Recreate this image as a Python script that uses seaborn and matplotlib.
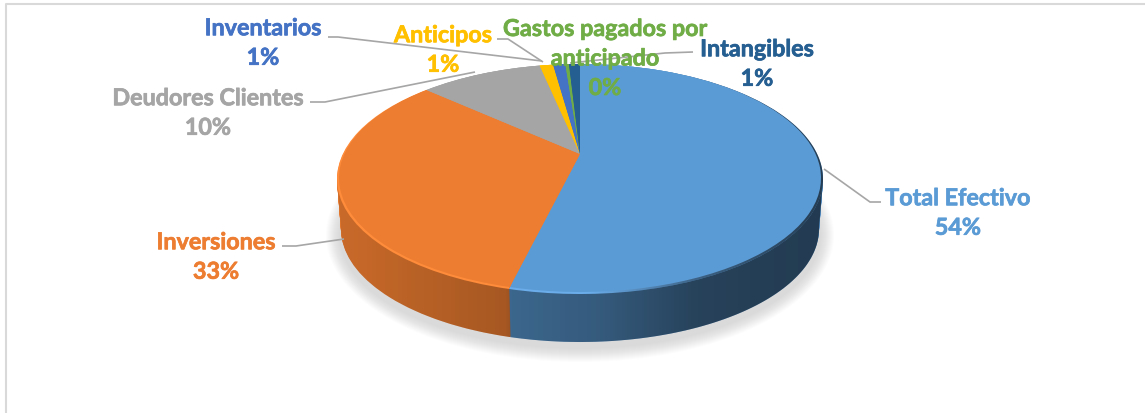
import numpy as np
import seaborn as sns
import matplotlib
matplotlib.use('Agg')
import matplotlib.pyplot as plt
import matplotlib.patheffects as pe
from matplotlib.patches import Ellipse
from matplotlib.path import Path
from matplotlib.transforms import Transform

# datos (sentido horario desde las 12)
categorias = ['Total Efectivo', 'Inversiones', 'Deudores Clientes', 'Anticipos',
              'Inventarios', 'Gastos pagados por\nanticipado', 'Intangibles']
valores = [53.8, 32.9, 10.0, 1.1, 1.0, 0.3, 0.9]
colores = ['#5B9BD5', '#ED7D31', '#A5A5A5', '#FFC000', '#4472C4', '#70AD47', '#255E91']
colores_bisel = ['#6BADEA', '#FF8C3A', '#B0B0B0', '#FFC000', '#4472C4', '#70AD47', '#255E91']

sns.set_theme(style='white')
plt.rcParams['font.family'] = ['Lato', 'DejaVu Sans']
paleta = sns.color_palette(colores)
paleta_bisel = sns.color_palette(colores_bisel)


class Disco3D(Transform):
    # lleva el disco unidad a una elipse con perspectiva (el centro queda desplazado)
    input_dims = 2
    output_dims = 2

    def __init__(self, a, b, cx, cy, k):
        super().__init__()
        self.a, self.b, self.cx, self.cy, self.k = a, b, cx, cy, k

    def transform_non_affine(self, v):
        v = np.asarray(v, dtype=float)
        d = 1 + self.k * v[:, 1]
        x = self.cx + self.a * v[:, 0] * np.sqrt(1 - self.k ** 2) / d
        y = self.cy - self.b * (v[:, 1] + self.k) / d
        return np.column_stack([x, y])


def tarta(a, b, cy, k, cols, z):
    wedges, _ = ax.pie(valores, colors=cols, startangle=90, counterclock=False,
                       wedgeprops={'linewidth': 0})
    t = Disco3D(a, b, 580, cy, k) + ax.transData
    for w in wedges:
        w.set_transform(t)
        w.set_zorder(z)
        w.set_clip_on(False)


def sombreado(xs, alphas, clip, z):
    # degradado negro horizontal recortado a la forma
    col = np.arange(330, 830)
    rgba = np.zeros((1, len(col), 4))
    rgba[0, :, 3] = np.interp(col, xs, alphas)
    im = ax.imshow(rgba, extent=(330, 830, 350, 60), aspect='auto', zorder=z, interpolation='bilinear')
    im.set_clip_path(clip, ax.transData)


fig = plt.figure(figsize=(11.45, 4.14), dpi=100)
ax = fig.add_axes([0, 0, 1, 1])

# sombra difusa
for e in range(0, 14):
    ax.add_patch(Ellipse((580, 236), 2 * (241 + e), 2 * (114 + e), color='#808080',
                         alpha=0.018, lw=0, zorder=1))

# pared lateral
for d in np.arange(50, 0, -1.0):
    f = d / 50
    tarta(243 - 4 * f, 115 - 2 * f, 180 + d, 0.217, paleta, 2)

# degradado de la pared
t = np.linspace(np.pi, 2 * np.pi, 120)
borde = np.column_stack([580 + 239 * np.cos(t), 230 - 113 * np.sin(t)])
pared = np.vstack([[337, 180], borde, [823, 180], [337, 180]])
sombreado([337, 505, 510, 600, 700, 823], [0.15, 0.30, 0.34, 0.42, 0.58, 0.62], Path(pared), 3)

# bisel y cara superior
tarta(243, 115, 180, 0.217, paleta_bisel, 4)
t2 = np.linspace(0, 2 * np.pi, 240)
elipse = np.column_stack([580 + 243 * np.cos(t2), 180 - 115 * np.sin(t2)])
sombreado([330, 590, 700, 823], [0, 0, 0.45, 0.65], Path(elipse), 5)
tarta(241, 114, 179, 0.21, paleta, 6)
tarta(240, 113, 178.5, 0.205, paleta, 6)
tarta(239, 112.5, 177.5, 0.2, paleta, 6)

# lineas guia
lineas = [([328, 338, 542], [38, 38, 62]),
          ([497, 508, 543], [40, 40, 63]),
          ([310, 325, 475], [103, 103, 73]),
          ([282, 296, 344], [247, 247, 240]),
          ([824, 870, 881], [170, 203, 203]),
          ([693, 665, 570], [53, 54, 64])]
for xs, ys in lineas:
    ax.plot(xs, ys, color='#A6A6A6', lw=1.2, zorder=7, solid_capstyle='butt')

# etiquetas
pos = [(958, 214.5), (216, 258.5), (208, 114.5), (443, 51.5), (263, 44.5), (605, 60), (757, 65.5)]
for nombre, v, c, (x, y) in zip(categorias, valores, colores, pos):
    ax.text(x, y, f'{nombre}\n{v:.0f}%', color=c, ha='center', va='center',
            fontsize=16.8, fontweight='bold', linespacing=1.5, zorder=8,
            path_effects=[pe.withStroke(linewidth=0.5, foreground=c)])

# marco
ax.plot([6, 6, 1145], [414, 4.5, 4.5], color='#D9D9D9', lw=1.5, zorder=0)

ax.set_aspect('auto')
ax.set_xlim(0, 1145)
ax.set_ylim(414, 0)
ax.axis('off')
fig.savefig('out.png', dpi=100, facecolor='white')
